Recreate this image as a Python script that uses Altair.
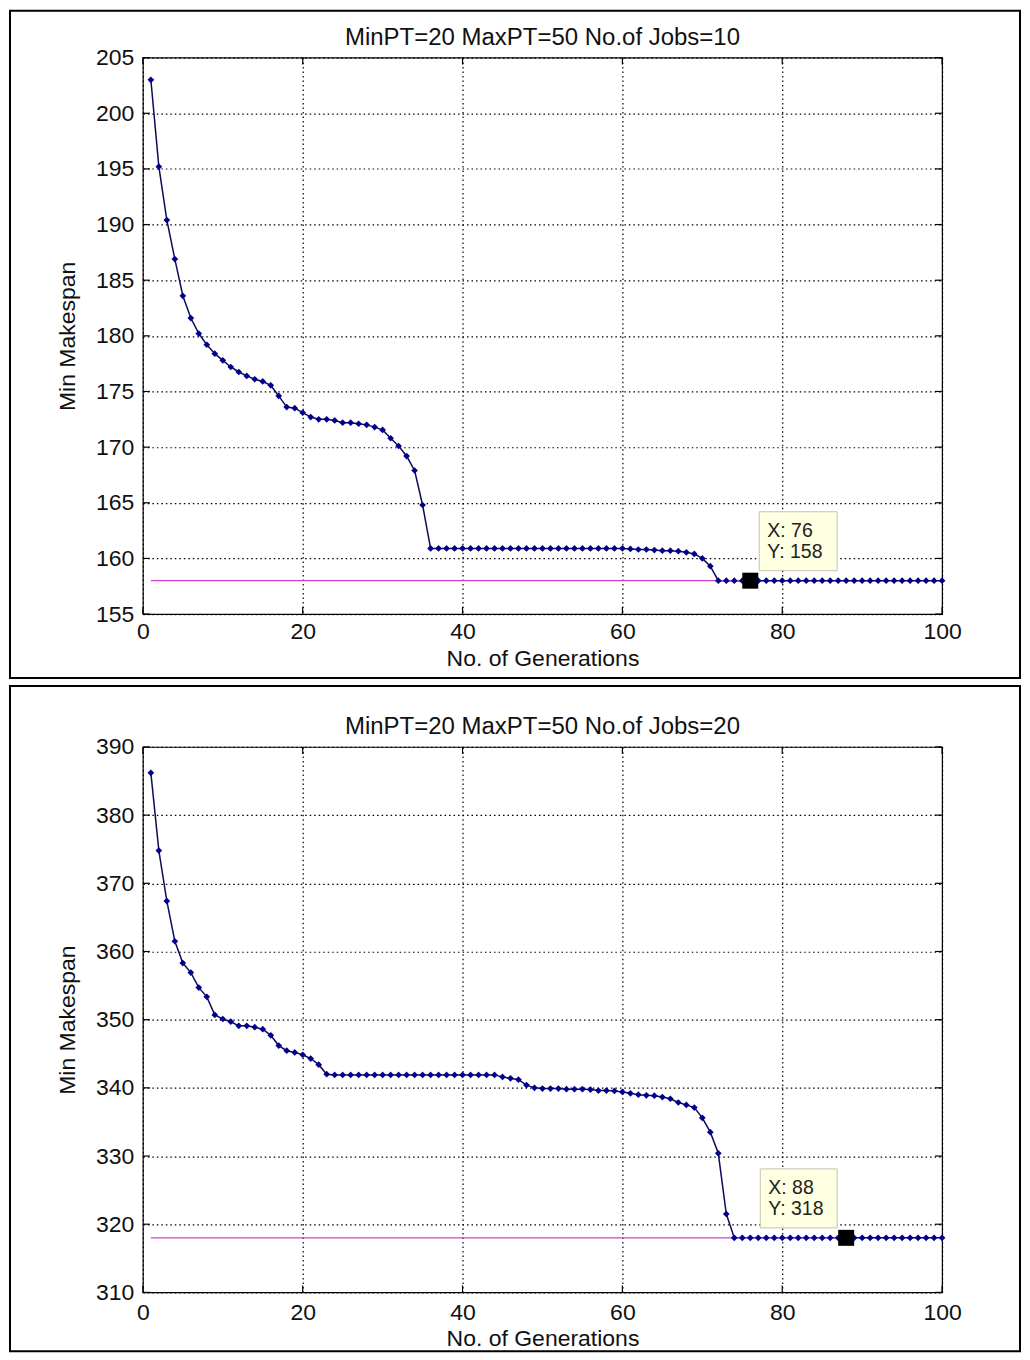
import altair as alt
import pandas as pd

generations = list(range(1, 101))

top_makespan = [
    203.0, 195.2, 190.4, 186.9, 183.6, 181.6, 180.2, 179.2, 178.4, 177.8,
    177.2, 176.75, 176.4, 176.1, 175.9, 175.55, 174.6, 173.6, 173.5, 173.1,
    172.7, 172.5, 172.5, 172.4, 172.2, 172.2, 172.1, 172.0, 171.8, 171.55,
    170.8, 170.1, 169.2, 167.9, 164.8, 160.9, 160.9, 160.9, 160.9, 160.9,
    160.9, 160.9, 160.9, 160.9, 160.9, 160.9, 160.9, 160.9, 160.9, 160.9,
    160.9, 160.9, 160.9, 160.9, 160.9, 160.9, 160.9, 160.9, 160.9, 160.9,
    160.85, 160.8, 160.8, 160.75, 160.7, 160.7, 160.65, 160.55, 160.4, 160.0,
    159.3, 158, 158, 158, 158, 158, 158, 158, 158, 158,
    158, 158, 158, 158, 158, 158, 158, 158, 158, 158,
    158, 158, 158, 158, 158, 158, 158, 158, 158, 158,
]

bottom_makespan = [
    386.2, 374.8, 367.4, 361.5, 358.3, 356.9, 354.7, 353.35, 350.7, 350.1,
    349.7, 349.1, 349.1, 348.9, 348.6, 347.7, 346.2, 345.45, 345.2, 344.85,
    344.3, 343.4, 342.0, 341.9, 341.9, 341.9, 341.9, 341.9, 341.9, 341.9,
    341.9, 341.9, 341.9, 341.9, 341.9, 341.9, 341.9, 341.9, 341.9, 341.9,
    341.9, 341.9, 341.9, 341.9, 341.6, 341.4, 341.2, 340.4, 340.0, 339.9,
    339.9, 339.9, 339.8, 339.8, 339.8, 339.75, 339.6, 339.6, 339.55, 339.4,
    339.2, 339.0, 338.9, 338.85, 338.65, 338.4, 337.85, 337.5, 337.1, 335.6,
    333.5, 330.4, 321.5, 318, 318, 318, 318, 318, 318, 318,
    318, 318, 318, 318, 318, 318, 318, 318, 318, 318,
    318, 318, 318, 318, 318, 318, 318, 318, 318, 318,
]

top_title = "MinPT=20 MaxPT=50 No.of Jobs=10"
bottom_title = "MinPT=20 MaxPT=50 No.of Jobs=20"
x_title = "No. of Generations"
y_title = "Min Makespan"
x_ticks = [0, 20, 40, 60, 80, 100]
top_y_ticks = [155, 160, 165, 170, 175, 180, 185, 190, 195, 200, 205]
bottom_y_ticks = [310, 320, 330, 340, 350, 360, 370, 380, 390]

top_tip = {"x": 76, "y": 158}
bottom_tip = {"x": 88, "y": 318}

FONT = "Liberation Sans"
LINE_COLOR = "#0c0c5a"
POINT_COLOR = "#00008c"
REF_COLOR = "#d040d0"
TEXT_COLOR = "#111111"
TICK_LEN = 7


def panel(values, tip, title, y_ticks, height, frame_top, frame_bottom,
          box_dx, text_dx, xlab_pad, xtitle_pad):
    df = pd.DataFrame({"gen": generations, "ms": values})
    xs = alt.Scale(domain=[x_ticks[0], x_ticks[-1]], nice=False, zero=False)
    ys = alt.Scale(domain=[y_ticks[0], y_ticks[-1]], nice=False, zero=False)
    x_axis = alt.Axis(values=x_ticks, title=x_title, grid=True, ticks=False,
                      domain=False, labelPadding=xlab_pad,
                      titlePadding=xtitle_pad, labelFlush=False)
    y_axis = alt.Axis(values=y_ticks, title=y_title, grid=True, ticks=False,
                      domain=False, labelPadding=9, titlePadding=16,
                      labelFlush=False)
    X = alt.X("gen:Q", scale=xs, axis=x_axis)
    Y = alt.Y("ms:Q", scale=ys, axis=y_axis)

    one = pd.DataFrame({"title": [title]})
    frame = alt.Chart(one).mark_rect(
        fillOpacity=0, stroke="black", strokeWidth=2
    ).encode(x=alt.value(-133), x2=alt.value(878),
             y=alt.value(frame_top), y2=alt.value(frame_bottom))
    title_mark = alt.Chart(one).mark_text(
        align="center", baseline="middle", font=FONT, fontSize=24,
        color=TEXT_COLOR
    ).encode(x=alt.value(400), y=alt.value(-20), text="title:N")

    # inward tick marks on all four sides (MATLAB box style)
    ytk = pd.DataFrame({"ms": y_ticks, "g0": x_ticks[0], "g1": x_ticks[-1]})
    xtk = pd.DataFrame({"gen": x_ticks, "m0": y_ticks[0], "m1": y_ticks[-1]})
    tick_l = alt.Chart(ytk).mark_rule(color="black", strokeWidth=1.2,
                                      x2Offset=TICK_LEN).encode(
        x=alt.X("g0:Q", scale=xs, axis=x_axis), x2="g0:Q",
        y=alt.Y("ms:Q", scale=ys, axis=y_axis))
    tick_r = alt.Chart(ytk).mark_rule(color="black", strokeWidth=1.2,
                                      x2Offset=-TICK_LEN).encode(
        x=alt.X("g1:Q", scale=xs, axis=x_axis), x2="g1:Q",
        y=alt.Y("ms:Q", scale=ys, axis=y_axis))
    tick_b = alt.Chart(xtk).mark_rule(color="black", strokeWidth=1.2,
                                      y2Offset=-TICK_LEN).encode(
        x=alt.X("gen:Q", scale=xs, axis=x_axis),
        y=alt.Y("m0:Q", scale=ys, axis=y_axis), y2="m0:Q")
    tick_t = alt.Chart(xtk).mark_rule(color="black", strokeWidth=1.2,
                                      y2Offset=TICK_LEN).encode(
        x=alt.X("gen:Q", scale=xs, axis=x_axis),
        y=alt.Y("m1:Q", scale=ys, axis=y_axis), y2="m1:Q")

    line = alt.Chart(df).mark_line(color=LINE_COLOR, strokeWidth=1.5).encode(
        x=X, y=Y)
    ref_df = pd.DataFrame({"gen": [generations[0], tip["x"]],
                           "ms": [tip["y"], tip["y"]]})
    ref = alt.Chart(ref_df).mark_line(color=REF_COLOR, strokeWidth=1.2).encode(
        x=X, y=Y)
    pts = alt.Chart(df).mark_point(shape="diamond", filled=True, size=45,
                                   color=POINT_COLOR, opacity=1).encode(
        x=X, y=Y)
    tip_df = pd.DataFrame({"gen": [tip["x"]], "ms": [tip["y"]],
                           "l1": [f"X: {tip['x']}"], "l2": [f"Y: {tip['y']}"]})
    square = alt.Chart(tip_df).mark_square(size=256, color="black", filled=True,
                                           opacity=1).encode(x=X, y=Y)
    box = alt.Chart(tip_df).mark_rect(
        fill="#ffffe1", stroke="#c4c4b0", strokeWidth=1,
        xOffset=box_dx[0], x2Offset=box_dx[1], yOffset=-69, y2Offset=-10
    ).encode(x=X, x2="gen:Q", y=Y, y2="ms:Q")
    t1 = alt.Chart(tip_df).mark_text(
        align="left", baseline="middle", font=FONT, fontSize=19.5,
        color="#222222", dx=text_dx, dy=-50
    ).encode(x=X, y=Y, text="l1:N")
    t2 = alt.Chart(tip_df).mark_text(
        align="left", baseline="middle", font=FONT, fontSize=19.5,
        color="#222222", dx=text_dx, dy=-29
    ).encode(x=X, y=Y, text="l2:N")

    return alt.layer(line, tick_l, tick_r, tick_b, tick_t, ref, pts, square,
                     box, t1, t2, frame, title_mark).properties(
        width=800, height=height)


top = panel(top_makespan, top_tip, top_title, top_y_ticks, 557, -47, 621,
            (9, 87), 17, 6, 4)
bottom = panel(bottom_makespan, bottom_tip, bottom_title, bottom_y_ticks, 546,
               -61, 605, (-86, -9), -78, 9, 3)

chart = alt.vconcat(top, bottom, spacing=4).properties(
    padding=0, background="white"
).configure_view(
    stroke="black", strokeWidth=1.2
).configure_axis(
    labelFont=FONT, titleFont=FONT, labelFontSize=23, titleFontSize=23,
    labelColor=TEXT_COLOR, titleColor=TEXT_COLOR, titleFontWeight="normal",
    gridColor="#000000", gridDash=[1.5, 3], gridOpacity=1, gridWidth=1.2,
)

chart.save("out.html", embed_options={"renderer": "svg", "actions": False})
